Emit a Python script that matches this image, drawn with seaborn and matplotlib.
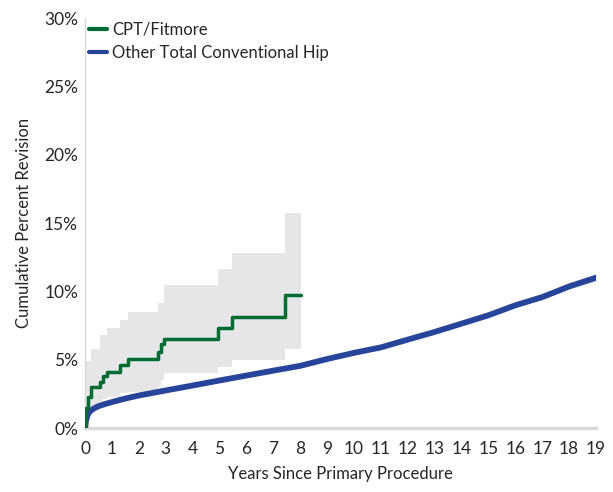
import pandas as pd
import numpy as np
import matplotlib.pyplot as plt
import seaborn as sns
from matplotlib.ticker import FuncFormatter


# CPT/Fitmore - Kaplan-Meier steps (years, % revised, 95% CI)
cpt_years = [0, 0.04, 0.12, 0.22, 0.56, 0.65, 0.83, 1.30, 1.60, 2.72, 2.84, 2.94, 4.94, 5.46, 7.43, 8.02]
cpt_est = [0, 1.5, 2.3, 3.0, 3.35, 3.8, 4.1, 4.6, 5.05, 5.55, 6.15, 6.55, 7.3, 8.1, 9.7, 9.7]
cpt_lower = [0, 0.5, 1.0, 1.6, 1.9, 2.1, 2.3, 2.6, 2.65, 3.1, 3.5, 4.0, 4.5, 5.0, 5.8, 5.8]
cpt_upper = [0, 4.9, 4.9, 5.8, 6.8, 6.8, 7.35, 7.9, 8.5, 9.15, 9.15, 10.5, 11.6, 12.8, 15.7, 15.7]

# Other Total Conventional Hip
other_years = [0, 0.02, 0.04, 0.08, 0.12, 0.2, 0.31, 0.5, 0.75, 1, 1.5, 2, 3, 4, 5, 6, 7, 8, 9, 10,
               11, 12, 13, 14, 15, 16, 17, 18, 19]
other_est = [0, 0.35, 0.56, 0.85, 1.05, 1.25, 1.41, 1.6, 1.76, 1.9, 2.16, 2.38, 2.75, 3.11, 3.48,
             3.84, 4.2, 4.55, 5.05, 5.5, 5.9, 6.47, 7.03, 7.64, 8.25, 8.98, 9.58, 10.36, 11.0]
other_ci = [0, 0.05, 0.05, 0.05, 0.05, 0.05, 0.05, 0.05, 0.05, 0.05, 0.05, 0.05, 0.05, 0.05, 0.05,
            0.05, 0.05, 0.05, 0.06, 0.06, 0.07, 0.08, 0.09, 0.1, 0.11, 0.13, 0.16, 0.2, 0.28]

x_ticks = list(range(0, 20))
y_ticks = [0, 5, 10, 15, 20, 25, 30]

green = '#006b35'
blue = '#27449b'
band = '#e6e6e6'
axis_grey = '#d9d9d9'
text_col = '#262626'


def plot_chart():
    fig = plt.figure(figsize=(6.13, 4.92), dpi=100)
    ax = fig.add_axes([0.1387, 0.130, 0.8336, 0.8334])

    cpt = pd.DataFrame({'years': cpt_years, 'est': cpt_est, 'lo': cpt_lower, 'hi': cpt_upper})
    other = pd.DataFrame({'years': other_years, 'est': other_est})
    other['lo'] = other['est'] - np.array(other_ci)
    other['hi'] = other['est'] + np.array(other_ci)

    ax.fill_between(cpt['years'], cpt['lo'], cpt['hi'], step='post', color=band, lw=0, zorder=1)
    ax.fill_between(other['years'], other['lo'], other['hi'], color=band, lw=0, zorder=1)

    sns.lineplot(data=cpt, x='years', y='est', ax=ax, color=green, lw=2.5,
                 drawstyle='steps-post', label='CPT/Fitmore', zorder=3)
    sns.lineplot(data=other, x='years', y='est', ax=ax, color=blue, lw=4.2,
                 label='Other Total Conventional Hip', zorder=2, solid_capstyle='round')

    ax.set_xlim(0, 19)
    ax.set_ylim(0, 30)
    ax.set_xticks(x_ticks)
    ax.set_yticks(y_ticks)
    ax.yaxis.set_major_formatter(FuncFormatter(lambda v, p: '%d%%' % v))

    ax.set_xlabel('Years Since Primary Procedure', fontsize=12, color=text_col, labelpad=7)
    ax.set_ylabel('Cumulative Percent Revision', fontsize=12, color=text_col, labelpad=9)

    for s in ['top', 'right']:
        ax.spines[s].set_visible(False)
    ax.spines['left'].set_color(axis_grey)
    ax.spines['left'].set_linewidth(1.0)
    ax.spines['bottom'].set_color(axis_grey)
    ax.spines['bottom'].set_linewidth(2.5)
    ax.tick_params(axis='x', colors=axis_grey, labelcolor=text_col, labelsize=12.5,
                   length=4, width=0.8, direction='out', pad=5)
    ax.tick_params(axis='y', colors=axis_grey, labelcolor=text_col, labelsize=12.5,
                   length=3, width=0.8, direction='out', pad=2)

    leg = ax.legend(loc='upper left', bbox_to_anchor=(-0.012, 1.015), frameon=False,
                    fontsize=12, handlelength=1.1, handletextpad=0.3, labelspacing=0.4,
                    borderaxespad=0.2)
    for t in leg.get_texts():
        t.set_color(text_col)
    for h in leg.get_lines():
        h.set_linewidth(3)

    return fig


if __name__ == '__main__':
    sns.set_style('white')
    plt.rcParams['font.family'] = ['Lato', 'DejaVu Sans']
    fig = plot_chart()
    fig.savefig('out.png', dpi=100)
